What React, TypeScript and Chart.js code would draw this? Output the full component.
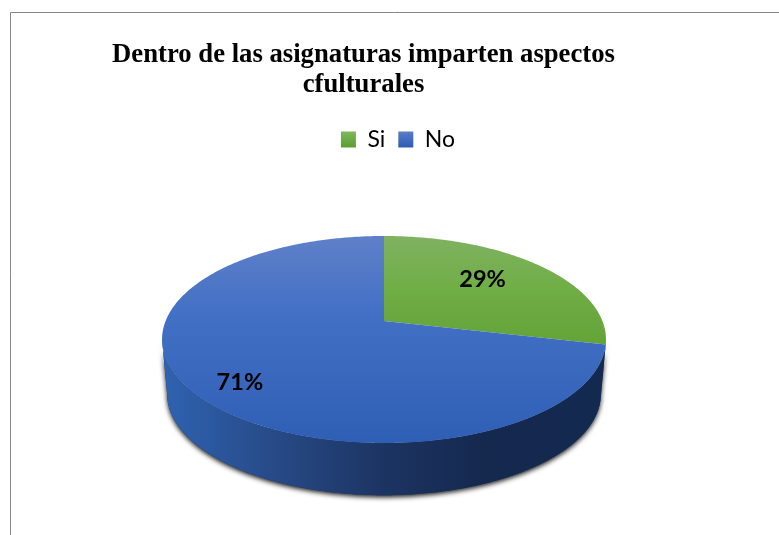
import React, { useEffect, useRef } from "react";
import { Chart, registerables } from "chart.js";

Chart.register(...registerables);

const categories = ["Si", "No"];
const shares = [28.6, 71.4];
const titleLines = ["Dentro de las asignaturas imparten aspectos", "cfulturales"];

const WIDTH = 779;
const HEIGHT = 535;
const PIE = { cx: 384, cy: 321, a: 218.4, b: 100.2, k: 0.1787, wallScale: 0.977, wallDrop: 55 };
const LABEL_RADIUS = [0.63, 0.81];
const LABEL_NUDGE = [[-2, -5], [8, 6]];

const project = (u: number, v: number) => {
  const w = 1 - PIE.k * v;
  return { x: PIE.cx + (PIE.a * u) / w, y: PIE.cy + (PIE.b * v) / w };
};

const topGradient = (ctx: CanvasRenderingContext2D, i: number) => {
  const g = ctx.createLinearGradient(0, 236, 0, 443);
  if (i === 0) {
    g.addColorStop(0, "#80B262");
    g.addColorStop(0.25, "#70AE46");
    g.addColorStop(0.55, "#62A236");
  } else {
    g.addColorStop(0, "#5F80C9");
    g.addColorStop(0.4, "#416FC4");
    g.addColorStop(1, "#2F5FB5");
  }
  return g;
};

const wallGradient = (ctx: CanvasRenderingContext2D, i: number) => {
  const g = ctx.createLinearGradient(165, 0, 604, 0);
  if (i === 0) {
    g.addColorStop(0, "#3C6B22");
    g.addColorStop(1, "#2F5519");
  } else {
    g.addColorStop(0, "#2F62B0");
    g.addColorStop(0.25, "#274A87");
    g.addColorStop(0.5, "#1C3462");
    g.addColorStop(0.72, "#15294F");
    g.addColorStop(1, "#14294F");
  }
  return g;
};

const pie3d = {
  id: "pie3d",
  beforeDraw(chart: any) {
    const { ctx } = chart;
    ctx.save();
    ctx.strokeStyle = "#868686";
    ctx.lineWidth = 1;
    ctx.beginPath();
    ctx.moveTo(10.5, HEIGHT);
    ctx.lineTo(10.5, 12.5);
    ctx.lineTo(WIDTH, 12.5);
    ctx.stroke();
    ctx.restore();
  },
  afterLayout(chart: any) {
    const t = chart.titleBlock;
    const titleH = t.bottom - t.top;
    t.left = 0;
    t.right = 727;
    t.top = 40;
    t.bottom = 40 + titleH;
    const l = chart.legend;
    const legendH = l.bottom - l.top;
    l.left = 0;
    l.right = 796;
    l.top = 115;
    l.bottom = 115 + legendH;
  },
  beforeDatasetDraw(chart: any) {
    const { ctx } = chart;
    const arcs = chart.getDatasetMeta(0).data;
    const lo = Math.asin(PIE.k);
    const hi = Math.PI - lo;
    const wallPath = (from: number, to: number) => {
      const steps = Math.max(2, Math.ceil((to - from) * 90));
      ctx.beginPath();
      for (let s = 0; s <= steps; s++) {
        const th = from + ((to - from) * s) / steps;
        const p = project(Math.cos(th), Math.sin(th));
        if (s === 0) ctx.moveTo(p.x, p.y);
        else ctx.lineTo(p.x, p.y);
      }
      for (let s = steps; s >= 0; s--) {
        const th = from + ((to - from) * s) / steps;
        const p = project(Math.cos(th), Math.sin(th));
        ctx.lineTo(
          PIE.cx + (p.x - PIE.cx) * PIE.wallScale,
          PIE.cy + (p.y - PIE.cy) * PIE.wallScale + PIE.wallDrop
        );
      }
      ctx.closePath();
    };

    ctx.save();
    ctx.shadowColor = "rgba(0,0,0,0.9)";
    ctx.shadowBlur = 5;
    ctx.shadowOffsetX = 0;
    ctx.shadowOffsetY = 2;
    ctx.fillStyle = "#1C3462";
    wallPath(lo, hi);
    ctx.fill();
    ctx.restore();

    arcs.forEach((arc: any, i: number) => {
      const from = Math.max(arc.startAngle, lo);
      const to = Math.min(arc.endAngle, hi);
      if (to <= from) return;
      ctx.fillStyle = wallGradient(ctx, i);
      wallPath(from, to);
      ctx.fill();
    });

    arcs.forEach((arc: any, i: number) => {
      const steps = Math.ceil((arc.endAngle - arc.startAngle) * 90);
      ctx.beginPath();
      ctx.moveTo(PIE.cx, PIE.cy);
      for (let s = 0; s <= steps; s++) {
        const th = arc.startAngle + ((arc.endAngle - arc.startAngle) * s) / steps;
        const p = project(Math.cos(th), Math.sin(th));
        ctx.lineTo(p.x, p.y);
      }
      ctx.closePath();
      ctx.fillStyle = topGradient(ctx, i);
      ctx.fill();
    });

    ctx.save();
    ctx.fillStyle = "#000000";
    ctx.font = "bold 23.5px Lato";
    ctx.textAlign = "center";
    ctx.textBaseline = "middle";
    arcs.forEach((arc: any, i: number) => {
      const mid = (arc.startAngle + arc.endAngle) / 2;
      const r = LABEL_RADIUS[i];
      const p = project(r * Math.cos(mid), r * Math.sin(mid));
      const total = shares.reduce((x, y) => x + y, 0);
      ctx.fillText(
        `${Math.round((shares[i] / total) * 100)}%`,
        p.x + LABEL_NUDGE[i][0],
        p.y + LABEL_NUDGE[i][1]
      );
    });
    ctx.restore();
    return false;
  },
};

export default function App() {
  const ref = useRef<HTMLCanvasElement>(null);
  useEffect(() => {
    document.body.style.margin = "0";
    document.documentElement.style.overflow = "hidden";
    const chart = new Chart(ref.current!, {
      type: "pie",
      data: {
        labels: categories,
        datasets: [{ data: shares, backgroundColor: ["#70AD47", "#4472C4"], borderWidth: 0 }],
      },
      plugins: [pie3d],
      options: {
        responsive: false,
        animation: false,
        layout: { padding: { top: 0, left: 160, right: 170, bottom: 40 } },
        plugins: {
          tooltip: { enabled: false },
          title: {
            display: true,
            text: titleLines,
            color: "#000000",
            font: { family: "'Liberation Serif'", size: 26.7, weight: "bold", lineHeight: 1.12 },
            padding: 0,
          },
          legend: {
            display: true,
            position: "top",
            labels: {
              color: "#000000",
              font: { family: "Lato", size: 23 },
              boxWidth: 15,
              boxHeight: 16,
              padding: 13,
              generateLabels(c: any) {
                return categories.map((text, i) => {
                  const g = c.ctx.createLinearGradient(0, 130, 0, 146);
                  g.addColorStop(0, i === 0 ? "#84BA62" : "#5F80C9");
                  g.addColorStop(1, i === 0 ? "#5EA032" : "#2F5FB5");
                  return { text, fillStyle: g, strokeStyle: "transparent", lineWidth: 0, index: i, fontColor: "#000000" };
                });
              },
            },
          },
        },
      },
    } as any);
    return () => chart.destroy();
  }, []);
  return <canvas ref={ref} width={WIDTH} height={HEIGHT} style={{ display: "block", width: WIDTH, height: HEIGHT }} />;
}
